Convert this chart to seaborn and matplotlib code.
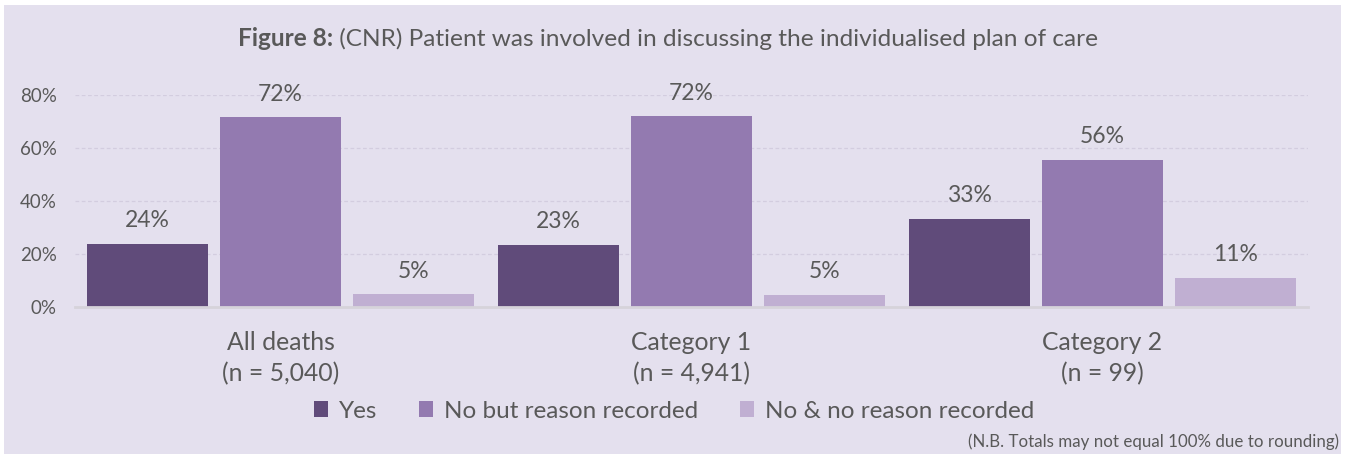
import matplotlib
matplotlib.use("Agg")
import matplotlib.pyplot as plt
from matplotlib.patches import Patch, Rectangle
import seaborn as sns
import pandas as pd

# Data
groups = ["All deaths\n(n = 5,040)", "Category 1\n(n = 4,941)", "Category 2\n(n = 99)"]
responses = ["Yes", "No but reason recorded", "No & no reason recorded"]
yes_pct = [23.8, 23.4, 33.3]
no_reason_pct = [71.6, 72.0, 55.6]
no_no_reason_pct = [4.8, 4.6, 11.1]
y_ticks = [0, 20, 40, 60, 80]
y_tick_labels = ["0%", "20%", "40%", "60%", "80%"]
title_bold = "Figure 8:"
title_rest = " (CNR) Patient was involved in discussing the individualised plan of care"
footnote = "(N.B. Totals may not equal 100% due to rounding)"

colors = ["#604B7A", "#937AB0", "#C0AFD2"]
bg = "#E4E0EE"
text_c = "#595959"

rows = []
for g, a, b, c in zip(groups, yes_pct, no_reason_pct, no_no_reason_pct):
    for r, v in zip(responses, (a, b, c)):
        rows.append({"group": g, "response": r, "pct": v})
df = pd.DataFrame(rows)

sns.set_theme(style="white")
plt.rcParams["font.family"] = ["Lato", "DejaVu Sans"]

W, H = 1345, 454
fig = plt.figure(figsize=(W / 100, H / 100), dpi=100, facecolor="white")
fig.patches.append(Rectangle((4 / W, 0), (1341 - 4) / W, (H - 5) / H,
                             transform=fig.transFigure, facecolor=bg,
                             edgecolor="none", zorder=-10))

ax = fig.add_axes([75 / W, 1 - 307 / H, (1308 - 75) / W, (307 - 95) / H])
ax.set_facecolor(bg)
ax.patch.set_alpha(0)

sns.barplot(data=df, x="group", y="pct", hue="response", hue_order=responses,
            palette=colors, width=0.971, gap=0.09, ax=ax, legend=False,
            saturation=1, edgecolor="none", zorder=3)

ax.set_xlim(-0.5, 2.5)
ax.set_ylim(0, 80)
ax.set_yticks(y_ticks)
ax.set_yticklabels(y_tick_labels)
ax.set_xlabel("")
ax.set_ylabel("")
for s in ["top", "right", "left"]:
    ax.spines[s].set_visible(False)
ax.spines["bottom"].set_color("#D6D3DA")
ax.spines["bottom"].set_linewidth(2)
ax.spines["bottom"].set_zorder(4)

for y in y_ticks[1:]:
    ax.axhline(y, color="#D3CDDF", lw=0.9, ls=(0, (3, 2)), zorder=1)

ax.tick_params(axis="y", length=0, pad=13, labelsize=13.5, labelcolor=text_c)
ax.tick_params(axis="x", length=0, pad=17, labelsize=17.8, labelcolor=text_c)
for lbl in ax.get_xticklabels():
    lbl.set_linespacing(1.44)

for cont in ax.containers:
    ax.bar_label(cont, fmt="%.0f%%", padding=9, fontsize=16.5, color=text_c,
                 clip_on=False)

# Title: bold lead-in followed by regular text, centred on the figure panel
fig.canvas.draw()
r = fig.canvas.get_renderer()
tb = fig.text(0, 0, title_bold, fontsize=17.6, fontweight="bold", color=text_c)
tr = fig.text(0, 0, title_rest, fontsize=17.6, color=text_c)
wb = tb.get_window_extent(r).width
wr = tr.get_window_extent(r).width
x0 = 668 - (wb + wr) / 2
yb = 1 - 46 / H
tb.set_position((x0 / W, yb))
tr.set_position(((x0 + wb) / W, yb))

handles = [Patch(facecolor=c, edgecolor="none") for c in colors]
fig.legend(handles, responses, loc="center", bbox_to_anchor=(674 / W, 1 - 411 / H),
           ncol=3, frameon=False, fontsize=17.5, labelcolor=text_c,
           handlelength=0.6, handleheight=0.6, handletextpad=0.45,
           columnspacing=1.7)

fig.text(1339 / W, 1 - 442 / H, footnote, ha="right", va="center",
         fontsize=12.2, color=text_c)

fig.savefig("out.png", dpi=100, facecolor="white")
